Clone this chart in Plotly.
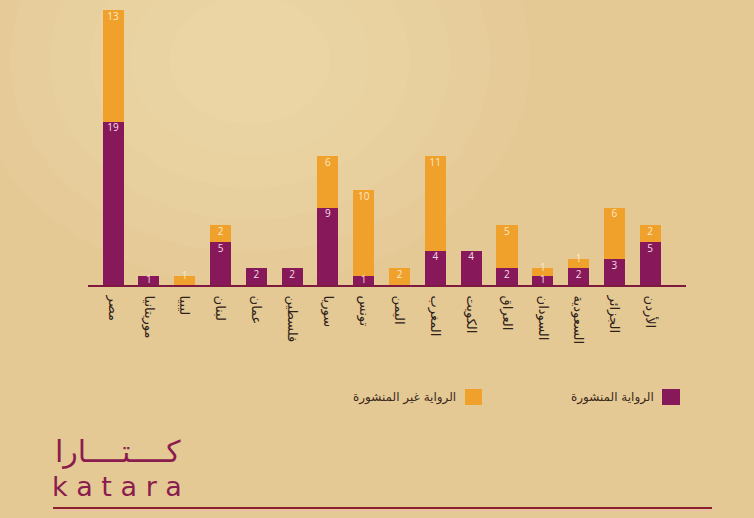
import plotly.graph_objects as go

countries = ["مصر", "موريتانيا", "ليبيا", "لبنان", "عمان", "فلسطين", "سوريا", "تونس",
             "اليمن", "المغرب", "الكويت", "العراق", "السودان", "السعودية", "الجزائر", "الأردن"]
published = [19, 1, 0, 5, 2, 2, 9, 1, 0, 4, 4, 2, 1, 2, 3, 5]
unpublished = [13, 0, 1, 2, 0, 0, 6, 10, 2, 11, 0, 5, 1, 1, 6, 2]

name_pub = "الرواية المنشورة"
name_unpub = "الرواية غير المنشورة"

purple = "#87185a"
orange = "#f0a12c"
bg = "#e5c995"

W, H = 754, 518
L, R, T, B = 88, 68, 5, 233


def px(x):
    return (x - L) / (W - L - R)


def py(y):
    return (H - B - y) / (H - T - B)


def label_pos(base, vals, small_off):
    # numbers sit just under the top of each segment; one-unit segments get their own offset
    xs, ys, ts = [], [], []
    for c, b, v in zip(countries, base, vals):
        if v:
            xs.append(c)
            ys.append(b + v - (0.85 if v > 1 else small_off))
            ts.append(str(v))
    return xs, ys, ts


fig = go.Figure()
fig.add_trace(go.Bar(x=countries, y=published, name=name_pub, marker_color=purple,
                     marker_line_width=0, hoverinfo="skip"))
fig.add_trace(go.Bar(x=countries, y=unpublished, name=name_unpub, marker_color=orange,
                     marker_line_width=0, hoverinfo="skip"))

xs, ys, ts = label_pos([0] * len(countries), published, 0.5)
fig.add_trace(go.Scatter(x=xs, y=ys, text=ts, mode="text", hoverinfo="skip", cliponaxis=False,
                         textfont=dict(color="#f7dde8", size=10, family="Open Sans")))
xs, ys, ts = label_pos(published, unpublished, 0.05)
fig.add_trace(go.Scatter(x=xs, y=ys, text=ts, mode="text", hoverinfo="skip", cliponaxis=False,
                         textfont=dict(color="#fce9c8", size=10, family="Open Sans")))

shapes = []
# faint light glow in the top left of the background
for r in [280, 240, 200, 160, 120, 80]:
    shapes.append(dict(type="circle", xref="paper", yref="paper", layer="below",
                       x0=px(250 - r), x1=px(250 + r), y0=py(60 + r * 0.8), y1=py(60 - r * 0.8),
                       fillcolor="rgba(255,246,222,0.05)", line_width=0))
# legend squares
shapes.append(dict(type="rect", xref="paper", yref="paper", x0=px(662), x1=px(680),
                   y0=py(405), y1=py(389), fillcolor=purple, line_width=0))
shapes.append(dict(type="rect", xref="paper", yref="paper", x0=px(465), x1=px(482),
                   y0=py(405), y1=py(389), fillcolor=orange, line_width=0))
# bottom rule
shapes.append(dict(type="line", xref="paper", yref="paper", x0=px(53), x1=px(712),
                   y0=py(508), y1=py(508), line=dict(color="#8a2030", width=2)))
shapes.append(dict(type="line", xref="paper", yref="paper", x0=px(53), x1=px(712),
                   y0=py(510.5), y1=py(510.5), line=dict(color="#f2b9b0", width=1)))

annotations = [
    dict(text=name_pub, x=px(656), y=py(397), xref="paper", yref="paper", xanchor="right",
         yanchor="middle", showarrow=False, font=dict(size=12, color="#3a2a1c", family="DejaVu Sans")),
    dict(text=name_unpub, x=px(458), y=py(397), xref="paper", yref="paper", xanchor="right",
         yanchor="middle", showarrow=False, font=dict(size=12, color="#3a2a1c", family="DejaVu Sans")),
    dict(text="كــــتــــارا", x=px(183), y=py(451), xref="paper", yref="paper", xanchor="right",
         yanchor="middle", showarrow=False, font=dict(size=30, color="#8a1d4e", family="DejaVu Sans")),
    dict(text="k a t a r a", x=px(50), y=py(486), xref="paper", yref="paper", xanchor="left",
         yanchor="middle", showarrow=False,
         font=dict(size=27, color="#8a1d4e", family="DejaVu Sans ExtraLight, DejaVu Sans")),
]

fig.update_layout(
    width=W, height=H,
    margin=dict(l=L, r=R, t=T, b=B),
    barmode="stack", bargap=0.41,
    paper_bgcolor=bg, plot_bgcolor="rgba(0,0,0,0)",
    showlegend=False,
    shapes=shapes, annotations=annotations,
)
fig.update_xaxes(range=[-0.7, 16.0], showline=True, linecolor="#7e1a40", linewidth=2,
                 showgrid=False, zeroline=False, ticks="", tickangle=90, ticklabelstandoff=6,
                 tickfont=dict(size=13, color="#2e2218", family="DejaVu Sans"))
fig.update_yaxes(range=[0, 32.56], visible=False, showgrid=False, zeroline=False)

fig.write_html("out.html", config={"displayModeBar": False},
               post_script="document.body.style.margin='0';")
